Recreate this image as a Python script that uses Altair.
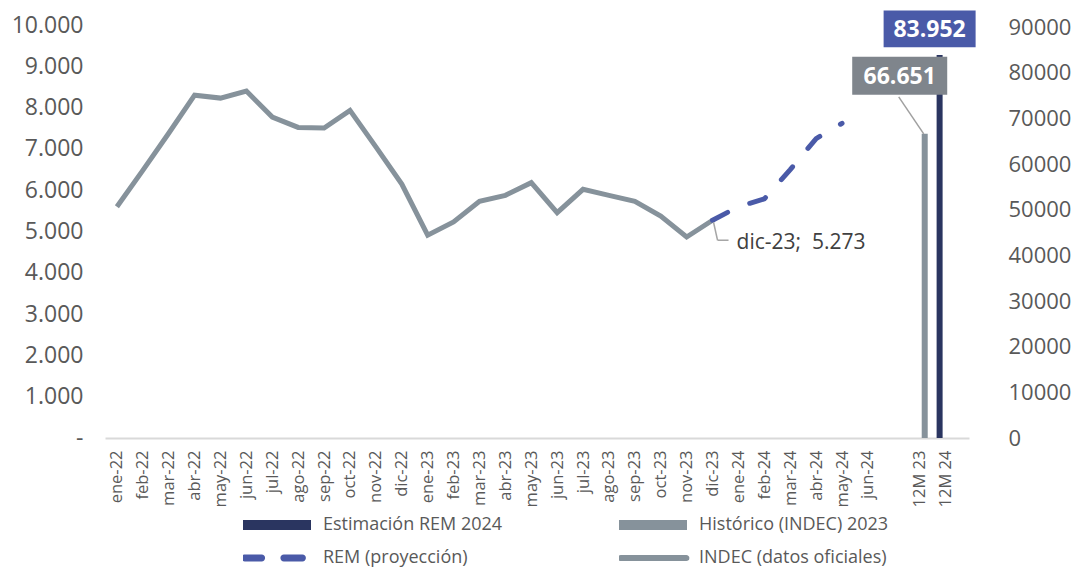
import altair as alt
import pandas as pd

# ---------------- data ----------------
categories = ["ene-22", "feb-22", "mar-22", "abr-22", "may-22", "jun-22", "jul-22", "ago-22",
              "sep-22", "oct-22", "nov-22", "dic-22", "ene-23", "feb-23", "mar-23", "abr-23",
              "may-23", "jun-23", "jul-23", "ago-23", "sep-23", "oct-23", "nov-23", "dic-23",
              "ene-24", "feb-24", "mar-24", "abr-24", "may-24", "jun-24", "", "12M 23", "12M 24"]

indec_months = categories[:24]
indec_values = [5600, 6480, 7380, 8300, 8230, 8400, 7770, 7520, 7506, 7934, 7050, 6150,
                4910, 5230, 5730, 5876, 6182, 5455, 6021, 5876, 5731, 5375, 4867, 5273]

rem_months = ["dic-23", "ene-24", "feb-24", "mar-24", "abr-24", "may-24"]
rem_values = [5273, 5600, 5790, 6500, 7250, 7620]

bar_cats = ["12M 23", "12M 24"]
bar_values = [66651, 83952]
bar_labels = ["66.651", "83.952"]

annot_cat = "dic-23"
annot_text = "dic-23;\u00a0 5.273"

# legend entries, listed column by column
legend_series = ["Estimación REM 2024", "REM (proyección)",
                 "Histórico (INDEC) 2023", "INDEC (datos oficiales)"]

# ---------------- styles ----------------
GRAY_LINE = "#86929b"
BLUE = "#4a5aa8"
NAVY = "#2a3560"
BOX_GRAY = "#7f858c"
TXT = "#595959"
FONT = "Open Sans"

RECT = "M-1,-0.15H1V0.15H-1Z"
DASHES = ("M-0.95,-0.1H-0.45A0.1,0.1 0 0 1 -0.45,0.1H-0.95A0.1,0.1 0 0 1 -0.95,-0.1Z"
          "M0.2,-0.1H0.75A0.1,0.1 0 0 1 0.75,0.1H0.2A0.1,0.1 0 0 1 0.2,-0.1Z")
CAPSULE = "M-0.95,-0.09H0.98A0.09,0.09 0 0 1 0.98,0.09H-0.95A0.09,0.09 0 0 1 -0.95,-0.09Z"
legend_colors = [NAVY, BLUE, GRAY_LINE, GRAY_LINE]
legend_shapes = [RECT, DASHES, RECT, CAPSULE]

idx = {c: i for i, c in enumerate(categories)}
tick_idx = [i for i, c in enumerate(categories) if c]
label_expr = "[" + ",".join("'" + c + "'" for c in categories) + "][datum.value]"

indec_df = pd.DataFrame({"idx": [idx[m] for m in indec_months], "v": indec_values})
rem_df = pd.DataFrame({"idx": [idx[m] for m in rem_months], "v": rem_values})
bar_df = pd.DataFrame({"idx": [idx[c] for c in bar_cats], "v": bar_values, "lab": bar_labels})
annot_df = pd.DataFrame({"idx": [idx[annot_cat]], "v": [indec_values[idx[annot_cat]]], "t": [annot_text]})
legend_df = pd.DataFrame({"serie": legend_series})

# ---------------- encodings ----------------
x_enc = alt.X(
    "idx:Q",
    scale=alt.Scale(domain=[-0.267, 32.71], nice=False, zero=False),
    axis=alt.Axis(values=tick_idx, labelExpr=label_expr, labelAngle=270, labelAlign="right",
                  labelBaseline="middle", labelFontSize=16.5, labelColor=TXT, labelFont=FONT,
                  domainColor="#d9d9d9", domainWidth=2, ticks=False, grid=False,
                  labelPadding=12, title=None, labelOverlap=False),
)
x2_enc = alt.X2("idx:Q")

yl_enc = alt.Y(
    "v:Q",
    scale=alt.Scale(domain=[0, 10000], nice=False, zero=True),
    axis=alt.Axis(values=list(range(0, 10001, 1000)),
                  labelExpr="datum.value == 0 ? '-\u00a0\u00a0' : replace(format(datum.value, ','), ',', '.')",
                  labelFontSize=23, labelColor=TXT, labelFont=FONT, domain=False, ticks=False,
                  grid=False, labelPadding=22, title=None),
)
yr_enc = alt.Y(
    "v:Q",
    scale=alt.Scale(domain=[0, 90500], nice=False, zero=True),
    axis=alt.Axis(orient="right", values=list(range(0, 90001, 10000)), format="d",
                  labelFontSize=22, labelColor=TXT, labelFont=FONT, domain=False, ticks=False,
                  grid=False, labelPadding=39, title=None),
)

# ---------------- left-axis layers ----------------
indec_line = alt.Chart(indec_df).mark_line(color=GRAY_LINE, strokeWidth=5).encode(x=x_enc, y=yl_enc)
rem_line = alt.Chart(rem_df).mark_line(color=BLUE, strokeWidth=5, strokeCap="round",
                                       strokeDash=[17, 24]).encode(x=x_enc, y=yl_enc)

annot_v = alt.Chart(annot_df).mark_rule(color="#a6a6a6", strokeWidth=1.5, xOffset=1, yOffset=2,
                                        x2Offset=5, y2Offset=20).encode(
    x=x_enc, x2=x2_enc, y=yl_enc, y2=alt.Y2("v:Q"))
annot_h = alt.Chart(annot_df).mark_rule(color="#a6a6a6", strokeWidth=1.5, xOffset=5, yOffset=20,
                                        x2Offset=16, y2Offset=20).encode(
    x=x_enc, x2=x2_enc, y=yl_enc, y2=alt.Y2("v:Q"))
annot_t = alt.Chart(annot_df).mark_text(align="left", baseline="middle", dx=24, dy=23,
                                        fontSize=21, font=FONT, color="#404040").encode(
    x=x_enc, y=yl_enc, text="t:N")

leg = dict(orient="none", legendX=138, legendY=494, columns=2, title=None,
           symbolSize=4624, clipHeight=12, symbolStrokeWidth=0, symbolOpacity=1,
           labelFontSize=18, labelFont=FONT, labelColor=TXT, labelOffset=12,
           columnPadding=116, rowPadding=15, padding=0, labelLimit=400)
legend_layer = alt.Chart(legend_df).mark_point(filled=True, opacity=0).encode(
    color=alt.Color("serie:N", scale=alt.Scale(domain=legend_series, range=legend_colors),
                    legend=alt.Legend(**leg)),
    shape=alt.Shape("serie:N", scale=alt.Scale(domain=legend_series, range=legend_shapes),
                    legend=alt.Legend(**leg)),
)

left = alt.layer(indec_line, rem_line, annot_v, annot_h, annot_t, legend_layer)

# ---------------- right-axis layers ----------------
bar23 = alt.Chart(bar_df.iloc[[0]]).mark_bar(color=GRAY_LINE, size=6, xOffset=5).encode(x=x_enc, y=yr_enc)
bar24 = alt.Chart(bar_df.iloc[[1]]).mark_bar(color=NAVY, size=6, xOffset=-6).encode(x=x_enc, y=yr_enc)

leader23 = alt.Chart(bar_df.iloc[[0]]).mark_rule(color="#a0a0a0", strokeWidth=1.5, xOffset=4, yOffset=0,
                                                 x2Offset=-21, y2Offset=-37).encode(
    x=x_enc, x2=x2_enc, y=yr_enc, y2=alt.Y2("v:Q"))

box_path = "M-1,-0.4H1V0.4H-1Z"
box23 = alt.Chart(bar_df.iloc[[0]]).mark_point(shape=box_path, size=9025, filled=True, opacity=1,
                                               color=BOX_GRAY, xOffset=-20, yOffset=-58).encode(
    x=x_enc, y=yr_enc)
box24 = alt.Chart(bar_df.iloc[[1]]).mark_point(shape=box_path, size=8464, filled=True, opacity=1,
                                               color=BLUE, xOffset=-16, yOffset=-26).encode(
    x=x_enc, y=yr_enc)
txt23 = alt.Chart(bar_df.iloc[[0]]).mark_text(color="white", fontSize=23, fontWeight="bold", font=FONT,
                                              xOffset=-20, yOffset=-57, baseline="middle").encode(
    x=x_enc, y=yr_enc, text="lab:N")
txt24 = alt.Chart(bar_df.iloc[[1]]).mark_text(color="white", fontSize=23, fontWeight="bold", font=FONT,
                                              xOffset=-16, yOffset=-25, baseline="middle").encode(
    x=x_enc, y=yr_enc, text="lab:N")

right = alt.layer(bar23, bar24, leader23, box23, box24, txt23, txt24)

chart = (
    alt.layer(left, right)
    .resolve_scale(y="independent")
    .properties(width=864, height=413, padding={"left": 3, "top": 2, "right": 0, "bottom": 0})
    .configure_view(stroke=None)
)

chart.save("out.html", embed_options={"renderer": "svg", "actions": False})
